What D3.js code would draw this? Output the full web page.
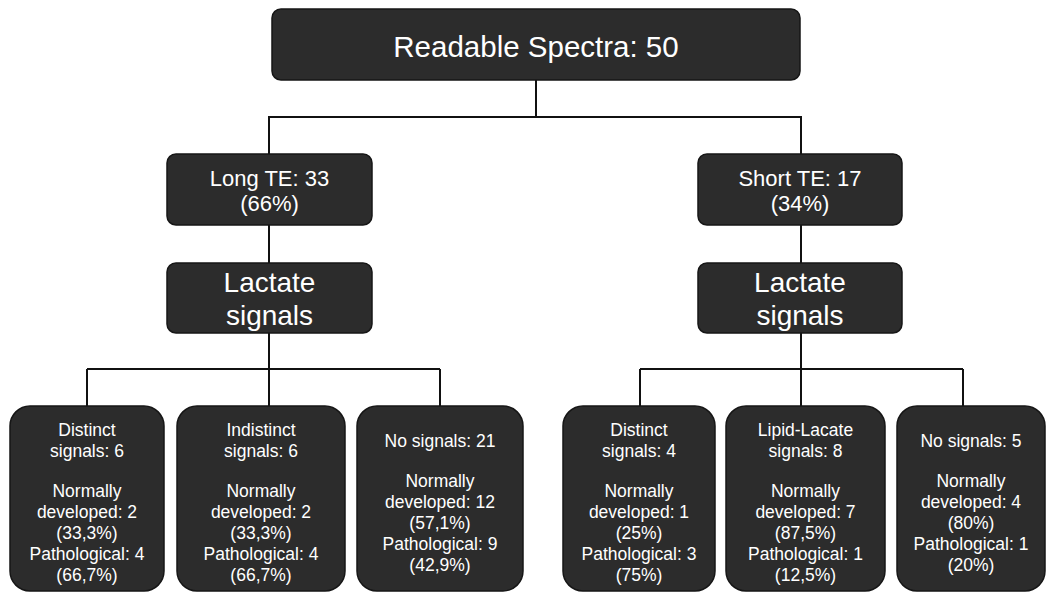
<!DOCTYPE html>
<html>
<head>
<meta charset="utf-8">
<script src="https://cdn.jsdelivr.net/npm/d3@7"></script>
<style>
  html, body { margin: 0; padding: 0; background: #ffffff; }
  svg { display: block; }
  text { font-family: "Liberation Sans", Arial, Helvetica, sans-serif; fill: #ffffff; }
</style>
</head>
<body>
<svg id="chart" width="1048" height="592"></svg>
<script>
// ---------- data ----------
const rootLabel = "Readable Spectra";
const rootCount = 50;

const teNames = ["Long TE", "Short TE"];
const teCounts = [33, 17];
const tePercents = ["66%", "34%"];

const lactateLabel = ["Lactate", "signals"];

// leaf groups (3 per TE branch)
const leafBranch = [0, 0, 0, 1, 1, 1];
const leafHeaders = [
  ["Distinct", "signals: 6"],
  ["Indistinct", "signals: 6"],
  ["No signals: 21"],
  ["Distinct", "signals: 4"],
  ["Lipid-Lacate", "signals: 8"],
  ["No signals: 5"]
];
const normalCounts = [2, 2, 12, 1, 7, 4];
const normalPercents = ["33,3%", "33,3%", "57,1%", "25%", "87,5%", "80%"];
const pathCounts = [4, 4, 9, 3, 1, 1];
const pathPercents = ["66,7%", "66,7%", "42,9%", "75%", "12,5%", "20%"];

// ---------- layout ----------
const svg = d3.select("#chart");
const FILL = "#2c2c2c", STROKE = "#161616", LINE = "#111111";

const root = { x0: 272, x1: 800, y0: 9, y1: 80 };
const teBoxes = [ { x0: 167, x1: 372 }, { x0: 698, x1: 902 } ];
const teY = { y0: 154, y1: 225 };
const lacY = { y0: 263, y1: 333 };
const leafBoxes = [
  { x0: 10, x1: 164 }, { x0: 177, x1: 345 }, { x0: 357, x1: 523 },
  { x0: 563, x1: 715 }, { x0: 726, x1: 885 }, { x0: 897, x1: 1045 }
];
const leafY = { y0: 406, y1: 591 };
const branchX = [269, 801];
const leafConnX = [87, 269, 440, 640, 801, 963];
const rootBusY = 117, leafBusY = 369;

const lines = svg.append("g").attr("stroke", LINE).attr("stroke-width", 2).attr("fill", "none");
const path = d3.path;

function seg(pts) {
  const p = path();
  p.moveTo(pts[0][0], pts[0][1]);
  for (let i = 1; i < pts.length; i++) p.lineTo(pts[i][0], pts[i][1]);
  lines.append("path").attr("d", p.toString());
}

const rootCx = (root.x0 + root.x1) / 2;
seg([[rootCx, root.y1], [rootCx, rootBusY]]);
seg([[branchX[0], teY.y0], [branchX[0], rootBusY], [branchX[1], rootBusY], [branchX[1], teY.y0]]);
branchX.forEach((bx, b) => {
  seg([[bx, teY.y1], [bx, lacY.y0]]);
  seg([[bx, lacY.y1], [bx, leafBusY]]);
  const xs = leafConnX.filter((_, i) => leafBranch[i] === b);
  seg([[xs[0], leafBusY], [xs[xs.length - 1], leafBusY]]);
  xs.forEach(x => seg([[x, leafBusY], [x, leafY.y0]]));
});

function box(x0, y0, x1, y1, r) {
  svg.append("rect")
    .attr("x", x0).attr("y", y0)
    .attr("width", x1 - x0).attr("height", y1 - y0)
    .attr("rx", r).attr("ry", r)
    .attr("fill", FILL).attr("stroke", STROKE).attr("stroke-width", 1.5);
}

function textLines(cx, baselines, strs, size) {
  const t = svg.append("text").attr("text-anchor", "middle").attr("font-size", size);
  strs.forEach((s, i) => {
    if (s === null) return;
    t.append("tspan").attr("x", cx).attr("y", baselines[i]).text(s);
  });
}

// root
box(root.x0, root.y0, root.x1, root.y1, 9);
textLines(rootCx, [57], [`${rootLabel}: ${rootCount}`], 29.5);

// TE + lactate
teNames.forEach((name, i) => {
  const b = teBoxes[i];
  const cx = (b.x0 + b.x1) / 2;
  box(b.x0, teY.y0, b.x1, teY.y1, 9);
  textLines(cx, [186, 211], [`${name}: ${teCounts[i]}`, `(${tePercents[i]})`], 22);
  box(b.x0, lacY.y0, b.x1, lacY.y1, 9);
  textLines(cx, [292, 325], lactateLabel, 28);
});

// leaves
const LH = 21, GAP = 40;
leafHeaders.forEach((hdr, i) => {
  const b = leafBoxes[i];
  const cx = (b.x0 + b.x1) / 2;
  box(b.x0, leafY.y0, b.x1, leafY.y1, 20);
  const strs = hdr.concat([
    "Normally",
    `developed: ${normalCounts[i]}`,
    `(${normalPercents[i]})`,
    `Pathological: ${pathCounts[i]}`,
    `(${pathPercents[i]})`
  ]);
  const baselines = [];
  let y = 0;
  strs.forEach((s, k) => {
    if (k === hdr.length) y += GAP - LH;
    baselines.push(y);
    y += LH;
  });
  const blockH = baselines[baselines.length - 1] - baselines[0];
  const center = 508.5;
  const start = center - blockH / 2;
  textLines(cx, baselines.map(v => v + start - baselines[0]), strs, 17.5);
});
</script>
</body>
</html>
